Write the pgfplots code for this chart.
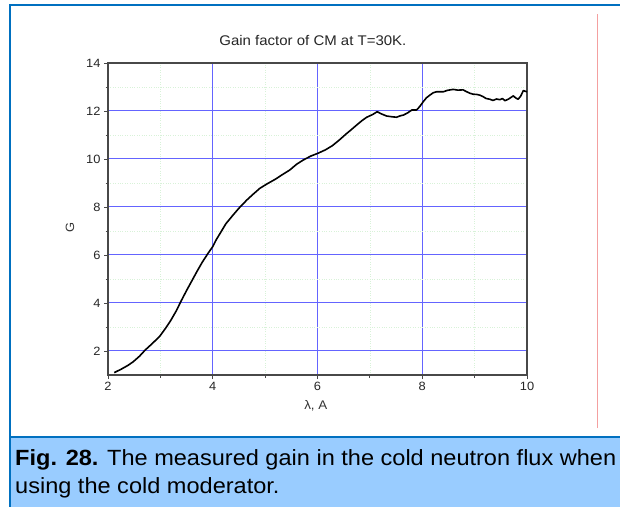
\documentclass[border=0pt]{standalone}
\usepackage{pgfplots}
\pgfplotsset{compat=1.18}
\usepackage{fontspec}
\setmainfont{Liberation Sans}[FakeStretch=1.07]
\definecolor{frameblue}{HTML}{0070C0}
\definecolor{capfill}{HTML}{99CCFF}
\definecolor{gridblue}{HTML}{6464FF}
\definecolor{minorgreen}{HTML}{D8F2D8}
\definecolor{axgray}{HTML}{484848}
\definecolor{pinkline}{HTML}{F4A0A0}
\begin{document}
\begin{tikzpicture}
\useasboundingbox (0,0) rectangle (620pt,506pt);
\clip (0,0) rectangle (620pt,506pt);
\fill[white] (0,0) rectangle (620pt,506pt);
\fill[capfill] (10pt,-5pt) rectangle (625pt,69pt);
\draw[frameblue, line width=2pt] (10pt,-5pt) -- (10pt,501pt) -- (625pt,501pt);
\draw[frameblue, line width=2pt] (10pt,69pt) -- (625pt,69pt);
\draw[pinkline, line width=0.9pt] (597pt,78pt) -- (597pt,492pt);
\begin{axis}[
  at={(108pt,131pt)}, anchor=south west,
  scale only axis, width=419pt, height=312pt,
  xmin=2, xmax=10, ymin=1, ymax=14,
  xtick={2,4,...,10}, ytick={2,4,...,14},
  minor xtick={3,5,7,9}, minor ytick={3,5,...,13},
  xtick pos=left, ytick pos=left,
  tick align=outside, major tick length=4pt, minor tick length=2.5pt,
  xmajorgrids, ymajorgrids, xminorgrids, yminorgrids,
  every major grid/.style={draw=gridblue, line width=1pt},
  every minor grid/.style={draw=minorgreen, dotted, line width=0.6pt},
  axis line style={axgray, line width=1.2pt},
  every tick/.style={draw=axgray, line width=0.8pt},
  ticklabel style={font=\fontsize{12}{13}\selectfont, text=black!85},
  /pgf/number format/assume math mode=true,
  title={Gain factor of CM at T=30K.},
  title style={at={(axis description cs:0.489,1.052)}, anchor=center, font=\fontsize{14}{16}\selectfont, text=black!85},
  xlabel={λ, A},
  xlabel style={at={(axis description cs:0.496,-0.099)}, anchor=center, font=\fontsize{12.5}{14}\selectfont, text=black!80},
  ylabel={G},
  ylabel style={at={(axis description cs:-0.091,0.474)}, anchor=center, font=\fontsize{12}{13}\selectfont, text=black!80},
]
\addplot[black, line width=1.6pt, line join=round] coordinates {
(2.12,1.10) (2.25,1.24) (2.38,1.40) (2.48,1.55) (2.60,1.78) (2.71,2.04)
(2.85,2.32) (2.99,2.62) (3.10,2.95) (3.20,3.28) (3.30,3.66) (3.40,4.10)
(3.50,4.52) (3.60,4.92) (3.70,5.32) (3.80,5.70) (3.91,6.07) (4.00,6.35)
(4.07,6.65) (4.14,6.90) (4.25,7.30) (4.39,7.67) (4.50,7.95) (4.65,8.29)
(4.78,8.55) (4.90,8.78) (5.05,8.98) (5.19,9.15) (5.33,9.35) (5.47,9.54)
(5.60,9.78) (5.73,9.96) (5.87,10.12) (6.01,10.24) (6.15,10.38) (6.28,10.55)
(6.40,10.76) (6.55,11.05) (6.66,11.25) (6.75,11.42) (6.85,11.60) (6.94,11.74)
(7.05,11.85) (7.14,11.97) (7.22,11.88) (7.32,11.79) (7.42,11.76) (7.51,11.74)
(7.58,11.80) (7.64,11.83) (7.72,11.92) (7.80,12.04) (7.89,12.04) (7.95,12.18)
(8.02,12.39) (8.08,12.55) (8.15,12.67) (8.21,12.76) (8.27,12.80) (8.40,12.80)
(8.48,12.86) (8.59,12.90) (8.68,12.87) (8.78,12.88) (8.85,12.80) (8.91,12.74)
(8.97,12.70) (9.04,12.69) (9.10,12.66) (9.16,12.60) (9.22,12.52) (9.29,12.49)
(9.35,12.44) (9.42,12.50) (9.48,12.47) (9.53,12.52) (9.58,12.43) (9.65,12.50)
(9.71,12.59) (9.74,12.63) (9.78,12.55) (9.83,12.49) (9.88,12.62) (9.93,12.85)
(9.97,12.82) (10.0,12.80)
};
\end{axis}
\node[anchor=base west, font=\fontsize{22}{26}\selectfont, inner sep=0pt] at (15pt,40.3pt) {\textbf{Fig. 28.} The measured gain in the cold neutron flux when};
\node[anchor=base west, font=\fontsize{22}{26}\selectfont, inner sep=0pt] at (15pt,13pt) {using the cold moderator.};
\end{tikzpicture}
\end{document}
